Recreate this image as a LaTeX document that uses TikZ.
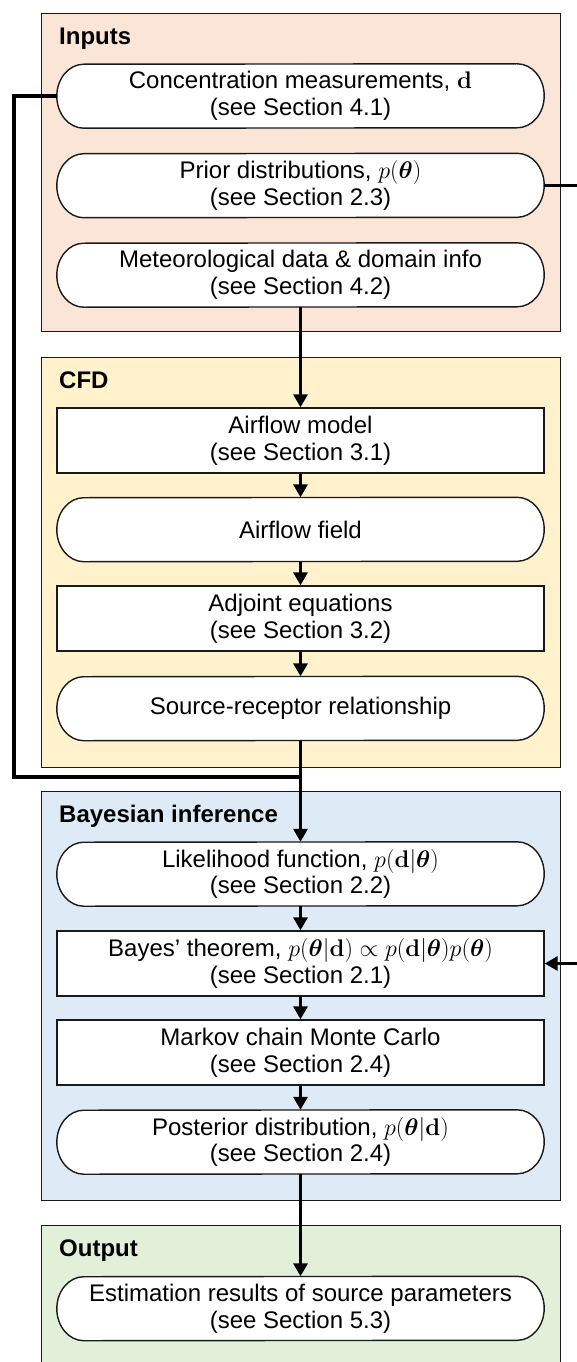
\RequirePackage{fix-cm}
\documentclass[tikz,border=0pt]{standalone}
\usepackage{amsmath}
\usepackage[no-math]{fontspec}
\setmainfont{Liberation Sans}
\usetikzlibrary{arrows.meta}

\pgfdeclarelayer{back}
\pgfdeclarelayer{shapes}
\pgfsetlayers{back,shapes,main}

\definecolor{inputsbg}{HTML}{FBE5D6}
\definecolor{cfdbg}{HTML}{FFF2CC}
\definecolor{bayesbg}{HTML}{DEEBF7}
\definecolor{outputbg}{HTML}{E2F0D9}
\definecolor{edge}{HTML}{1A1A1A}

\newcommand{\bodysize}{\fontsize{24}{26.7}\selectfont}

% terminator outline with elliptical ends, drawn round a named node
\newcommand{\pilloutline}[1]{%
  \path[pillline] ([xshift=-27pt]#1.north east)
    arc[start angle=90,end angle=-90,x radius=27pt,y radius=32pt]
    -- ([xshift=27pt]#1.south west)
    arc[start angle=270,end angle=90,x radius=27pt,y radius=32pt] -- cycle;}

\tikzset{
  group/.style={draw=edge, line width=1.4pt, anchor=north west,
    minimum width=519pt, inner sep=0pt},
  grouptitle/.style={anchor=base west, inner sep=0pt, font=\bfseries\bodysize},
  stage/.style={minimum width=487pt, minimum height=64pt, inner sep=0pt,
    align=center, font=\bodysize},
  procbox/.style={stage, draw=edge, line width=1.4pt, fill=white, minimum height=65pt},
  pillline/.style={draw=edge, line width=1.4pt, fill=white},
  link/.style={line width=3.2pt, black},
  flow/.style={link, -{Triangle[width=14pt,length=13pt]}},
}

\begin{document}
\begin{tikzpicture}[x=1pt, y=-1pt]
\useasboundingbox (0,0) rectangle (577,1362);
\clip (0,0) rectangle (577,1362);

% stage groups
\begin{pgfonlayer}{back}
\node[group, fill=inputsbg, minimum height=318pt] (gin) at (41,13) {};
\node[group, fill=cfdbg, minimum height=410pt] (gcfd) at (41,357) {};
\node[group, fill=bayesbg, minimum height=409pt] (gbay) at (41,791) {};
\node[group, fill=outputbg, minimum height=170pt] (gout) at (41,1225) {};
\end{pgfonlayer}

\node[grouptitle] (tin) at ([xshift=18pt,yshift=-31.5pt]gin.north west) {Inputs};
\node[grouptitle] (tcfd) at ([xshift=18pt,yshift=-31.5pt]gcfd.north west) {CFD};
\node[grouptitle] (tbay) at ([xshift=18pt,yshift=-31.5pt]gbay.north west) {Bayesian inference};
\node[grouptitle] (tout) at ([xshift=18pt,yshift=-31.5pt]gout.north west) {Output};

% inputs
\node[stage] (in1) at (300.5,96) {Concentration measurements, $\mathbf{d}$\\(see Section 4.1)};
\node[stage] (in2) at (300.5,185.5) {Prior distributions, $p(\boldsymbol{\theta})$\\(see Section 2.3)};
\node[stage] (in3) at (300.5,275) {Meteorological data \& domain info\\(see Section 4.2)};

% CFD
\node[procbox] (am) at (300.5,440.5) {Airflow model\\(see Section 3.1)};
\node[stage] (af) at (300.5,529.5) {Airflow field};
\node[procbox] (ae) at (300.5,618.5) {Adjoint equations\\(see Section 3.2)};
\node[stage] (sr) at (300.5,708.5) {Source-receptor relationship};

% Bayesian inference
\node[stage] (lf) at (300.5,874) {Likelihood function, $p(\mathbf{d}|\boldsymbol{\theta})$\\(see Section 2.2)};
\node[procbox] (bt) at (300.5,963.5) {Bayes’ theorem, $p(\boldsymbol{\theta}|\mathbf{d}) \propto p(\mathbf{d}|\boldsymbol{\theta})p(\boldsymbol{\theta})$\\(see Section 2.1)};
\node[procbox] (mc) at (300.5,1052.5) {Markov chain Monte Carlo\\(see Section 2.4)};
\node[stage] (pd) at (300.5,1142) {Posterior distribution, $p(\boldsymbol{\theta}|\mathbf{d})$\\(see Section 2.4)};

% output
\node[stage] (er) at (300.5,1308.5) {Estimation results of source parameters\\(see Section 5.3)};

\begin{pgfonlayer}{shapes}
\foreach \n in {in1,in2,in3,af,sr,lf,pd,er} {\pilloutline{\n}}
\end{pgfonlayer}

% flow
\draw[flow] (in3.south) -- (am.north);
\draw[flow] (am.south) -- (af.north);
\draw[flow] (af.south) -- (ae.north);
\draw[flow] (ae.south) -- (sr.north);
\draw[flow] (sr.south) -- (lf.north);
\draw[flow] (lf.south) -- (bt.north);
\draw[flow] (bt.south) -- (mc.north);
\draw[flow] (mc.south) -- (pd.north);
\draw[flow] (pd.south) -- (er.north);

% measurements join the trunk below CFD
\coordinate (lbend) at (14,777);
\draw[link] (in1.west) -| (lbend) -- (lbend -| sr.south);

% priors feed Bayes' theorem
\path (bt.east) ++(40,0) coordinate (rbend);
\draw[flow] (in2.east) -| (rbend) -- (bt.east);
\end{tikzpicture}
\end{document}
